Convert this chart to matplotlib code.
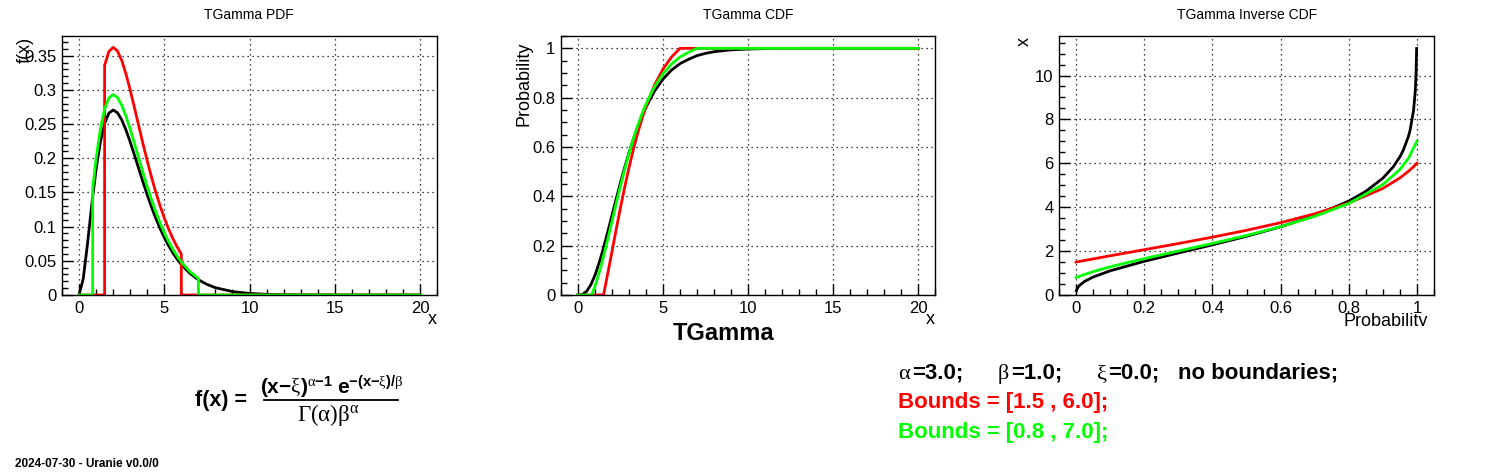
import matplotlib
matplotlib.use("Agg")
import matplotlib.pyplot as plt
import matplotlib.ticker as ticker
from matplotlib.lines import Line2D
from matplotlib.transforms import Bbox, TransformedBbox

plt.rcParams["font.family"] = ["Liberation Sans", "DejaVu Sans"]
plt.rcParams["mathtext.fontset"] = "custom"
plt.rcParams["mathtext.rm"] = "Liberation Serif"
plt.rcParams["mathtext.bf"] = "Liberation Sans:bold"
plt.rcParams["mathtext.it"] = "Liberation Serif:italic"

# ---- PDF ----
pdf_x_black = [0, 0.25, 0.5, 0.75, 1, 1.25, 1.5, 1.75, 2, 2.25, 2.5, 2.75, 3, 3.25, 3.5,
               3.75, 4, 4.25, 4.5, 4.75, 5, 5.25, 5.5, 5.75, 6, 6.5, 7, 7.5, 8, 9, 10,
               11, 12, 13, 14, 15, 20]
pdf_y_black = [0, 0.0243, 0.0758, 0.1329, 0.1839, 0.2238, 0.2510, 0.2661, 0.2707, 0.2668,
               0.2565, 0.2417, 0.2240, 0.2048, 0.1850, 0.1654, 0.1465, 0.1288, 0.1125,
               0.0976, 0.0842, 0.0723, 0.0618, 0.0526, 0.0446, 0.0318, 0.0223, 0.0156,
               0.0107, 0.0050, 0.0023, 0.0010, 0.0004, 0.0002, 0.0001, 0, 0]

pdf_x_red = [0, 1.5, 1.5, 1.75, 2, 2.25, 2.5, 2.75, 3, 3.25, 3.5, 3.75, 4, 4.25, 4.5,
             4.75, 5, 5.25, 5.5, 5.75, 6, 6, 20]
pdf_y_red = [0, 0, 0.3361, 0.3563, 0.3624, 0.3572, 0.3435, 0.3237, 0.3000, 0.2742,
             0.2477, 0.2214, 0.1962, 0.1725, 0.1506, 0.1307, 0.1128, 0.0968, 0.0828,
             0.0705, 0.0598, 0, 0]

pdf_x_green = [0, 0.8, 0.8, 1, 1.25, 1.5, 1.75, 2, 2.25, 2.5, 2.75, 3, 3.25, 3.5, 3.75,
               4, 4.25, 4.5, 4.75, 5, 5.25, 5.5, 5.75, 6, 6.5, 7, 7, 20]
pdf_y_green = [0, 0, 0.1558, 0.1993, 0.2425, 0.2720, 0.2883, 0.2933, 0.2891, 0.2779,
               0.2619, 0.2427, 0.2219, 0.2004, 0.1792, 0.1588, 0.1396, 0.1219, 0.1057,
               0.0913, 0.0784, 0.0670, 0.0570, 0.0483, 0.0344, 0.0242, 0, 0]

# ---- CDF ----
cdf_x_black = [0, 0.25, 0.5, 0.75, 1, 1.25, 1.5, 1.75, 2, 2.25, 2.5, 2.75, 3, 3.25, 3.5,
               3.75, 4, 4.5, 5, 5.5, 6, 6.5, 7, 7.5, 8, 9, 10, 11, 12, 13, 14, 15, 20]
cdf_y_black = [0, 0.0022, 0.0144, 0.0405, 0.0803, 0.1316, 0.1912, 0.2561, 0.3233, 0.3907,
               0.4562, 0.5185, 0.5768, 0.6304, 0.6792, 0.7229, 0.7619, 0.8264, 0.8754,
               0.9116, 0.9380, 0.9555, 0.9704, 0.9797, 0.9862, 0.9938, 0.9972, 0.9988,
               0.9995, 0.9998, 0.9999, 1.0, 1.0]

cdf_x_red = [0, 1.5, 1.75, 2, 2.25, 2.5, 2.75, 3, 3.25, 3.5, 3.75, 4, 4.5, 5, 5.5, 6, 20]
cdf_y_red = [0, 0, 0.0869, 0.1769, 0.2671, 0.3549, 0.4384, 0.5164, 0.5882, 0.6534,
             0.7121, 0.7643, 0.8506, 0.9162, 0.9645, 1.0, 1.0]

cdf_x_green = [0, 0.8, 1, 1.25, 1.5, 1.75, 2, 2.25, 2.5, 2.75, 3, 3.25, 3.5, 3.75, 4,
               4.5, 5, 5.5, 6, 6.5, 7, 20]
cdf_y_green = [0, 0, 0.0356, 0.0912, 0.1557, 0.2261, 0.2989, 0.3719, 0.4429, 0.5105,
               0.5736, 0.6317, 0.6845, 0.7319, 0.7741, 0.8440, 0.8970, 0.9363, 0.9649,
               0.9838, 1.0, 1.0]

# ---- Inverse CDF ----
inv_p_black = [0.001, 0.005, 0.01, 0.025, 0.05, 0.1, 0.2, 0.3, 0.4, 0.5, 0.6, 0.7, 0.8,
               0.85, 0.9, 0.93, 0.95, 0.96, 0.975, 0.98, 0.99, 0.995, 0.9975, 0.999]
inv_x_black = [0.191, 0.338, 0.436, 0.619, 0.818, 1.102, 1.535, 1.914, 2.285, 2.674,
               3.105, 3.616, 4.279, 4.723, 5.322, 5.83, 6.296, 6.6, 7.225, 7.517, 8.406,
               9.274, 10.12, 11.229]

inv_p_red = [0, 0.05, 0.1, 0.2, 0.3, 0.4, 0.5, 0.6, 0.7, 0.8, 0.9, 0.95, 0.975, 0.99, 1]
inv_x_red = [1.5, 1.644, 1.787, 2.064, 2.344, 2.635, 2.948, 3.295, 3.699, 4.192, 4.855,
             5.335, 5.635, 5.846, 6.0]

inv_p_green = [0, 0.05, 0.1, 0.2, 0.3, 0.4, 0.5, 0.6, 0.7, 0.8, 0.9, 0.95, 0.975, 0.99, 1]
inv_x_green = [0.8, 1.065, 1.284, 1.657, 2.004, 2.349, 2.711, 3.114, 3.582, 4.170, 5.032,
               5.72, 6.223, 6.696, 7.0]

RED, GREEN, BLACK = "#ff0000", "#00ff00", "#000000"
LW = 2.0
W, H = 1496, 472


def fx(px):
    return px / W


def fy(py):
    return 1 - py / H


def style(ax, xmaj, xmin, ymaj, ymin):
    ax.xaxis.set_major_locator(ticker.MultipleLocator(xmaj))
    ax.xaxis.set_minor_locator(ticker.MultipleLocator(xmin))
    ax.yaxis.set_major_locator(ticker.MultipleLocator(ymaj))
    ax.yaxis.set_minor_locator(ticker.MultipleLocator(ymin))
    ax.tick_params(which="both", direction="in", top=False, right=False, width=1)
    ax.tick_params(which="major", length=8, labelsize=12, pad=4)
    ax.tick_params(which="minor", length=4)
    ax.grid(True, which="major", color="black", linestyle=(0, (1, 3)), linewidth=0.9)
    for s in ax.spines.values():
        s.set_linewidth(1)
    fmt = ticker.FuncFormatter(lambda v, p: ("%g" % round(v, 6)))
    ax.xaxis.set_major_formatter(fmt)
    ax.yaxis.set_major_formatter(fmt)


fig = plt.figure(figsize=(W / 100, H / 100), dpi=100)

ax1 = fig.add_axes([fx(62), fy(295), fx(375), 259 / H])
ax2 = fig.add_axes([fx(561), fy(295), fx(374), 259 / H])
ax3 = fig.add_axes([fx(1059), fy(295), fx(375), 259 / H])

# PDF
ax1.plot(pdf_x_black, pdf_y_black, color=BLACK, lw=LW)
ax1.plot(pdf_x_red, pdf_y_red, color=RED, lw=LW)
ax1.plot(pdf_x_green, pdf_y_green, color=GREEN, lw=LW)
ax1.set_xlim(-1, 21)
ax1.set_ylim(0, 0.379)
style(ax1, 5, 1, 0.05, 0.01)

# CDF
ax2.plot(cdf_x_black, cdf_y_black, color=BLACK, lw=LW)
ax2.plot(cdf_x_red, cdf_y_red, color=RED, lw=LW)
ax2.plot(cdf_x_green, cdf_y_green, color=GREEN, lw=LW)
ax2.set_xlim(-1, 21)
ax2.set_ylim(0, 1.05)
style(ax2, 5, 1, 0.2, 0.05)

# Inverse CDF
ax3.plot(inv_p_black, inv_x_black, color=BLACK, lw=LW)
ax3.plot(inv_p_red, inv_x_red, color=RED, lw=LW)
ax3.plot(inv_p_green, inv_x_green, color=GREEN, lw=LW)
ax3.set_xlim(-0.05, 1.05)
ax3.set_ylim(0, 11.8)
style(ax3, 0.2, 0.05, 2, 0.5)

# titles
fig.text(fx(249), fy(15), "TGamma PDF", ha="center", va="center", fontsize=10)
fig.text(fx(748), fy(15), "TGamma CDF", ha="center", va="center", fontsize=10)
fig.text(fx(1247), fy(15), "TGamma Inverse CDF", ha="center", va="center", fontsize=10)

# axis labels
fig.text(fx(25), fy(37), "f(x)", rotation=90, ha="center", va="top", fontsize=13)
fig.text(fx(432), fy(320), "x", ha="center", va="center", fontsize=13)
fig.text(fx(524), fy(42), "Probability", rotation=90, ha="center", va="top", fontsize=13)
fig.text(fx(930), fy(320), "x", ha="center", va="center", fontsize=13)
fig.text(fx(724), fy(340), "TGamma", ha="center", va="baseline", fontsize=17,
         fontweight="bold")
fig.text(fx(1024), fy(41), "x", rotation=90, ha="center", va="center", fontsize=13)
t = fig.text(fx(1428), fy(313), "Probability", ha="right", va="top", fontsize=13)
t.set_clip_box(TransformedBbox(Bbox.from_extents(0, fy(326), 1, 1), fig.transFigure))
t.set_clip_on(True)

# formula
fig.text(fx(195), fy(406), "f(x) =", ha="left", va="baseline", fontsize=15.5,
         fontweight="bold")
fig.text(fx(332), fy(394),
         r"$\mathbf{(x}{\mathbf{-}}\mathrm{ξ}\mathbf{)}^{\mathrm{α}{\mathbf{-}}\mathbf{1}}\ "
         r"\mathbf{e}^{{\mathbf{-}}\mathbf{(x}{\mathbf{-}}\mathrm{ξ}\mathbf{)/}\mathrm{β}}$",
         ha="center", va="baseline", fontsize=15)
fig.text(fx(328), fy(421), r"$\mathrm{Γ(α)β}^{\mathrm{α}}$", ha="center",
         va="baseline", fontsize=16.5)
fig.add_artist(Line2D([fx(264), fx(398)], [fy(400), fy(400)], color="black", lw=1.3))

# parameter text
fs = 16
fig.text(fx(898), fy(379), "α", family="Liberation Serif", fontsize=fs, va="baseline")
fig.text(fx(912), fy(379), "=3.0;", fontsize=fs, fontweight="bold", va="baseline")
fig.text(fx(998), fy(379), "β", family="Liberation Serif", fontsize=fs, va="baseline")
fig.text(fx(1011), fy(379), "=1.0;", fontsize=fs, fontweight="bold", va="baseline")
fig.text(fx(1097), fy(379), "ξ", family="Liberation Serif", fontsize=fs, va="baseline")
fig.text(fx(1108), fy(379), "=0.0;", fontsize=fs, fontweight="bold", va="baseline")
fig.text(fx(1178), fy(379), "no boundaries;", fontsize=fs, fontweight="bold",
         va="baseline")
fig.text(fx(898), fy(408), "Bounds = [1.5 , 6.0];", fontsize=fs, fontweight="bold",
         color=RED, va="baseline")
fig.text(fx(898), fy(438), "Bounds = [0.8 , 7.0];", fontsize=fs, fontweight="bold",
         color=GREEN, va="baseline")

fig.text(fx(15), fy(464), "2024-07-30 - Uranie v0.0/0", fontsize=8.5,
         fontweight="bold", va="center", ha="left")

fig.savefig("out.png", dpi=100)
